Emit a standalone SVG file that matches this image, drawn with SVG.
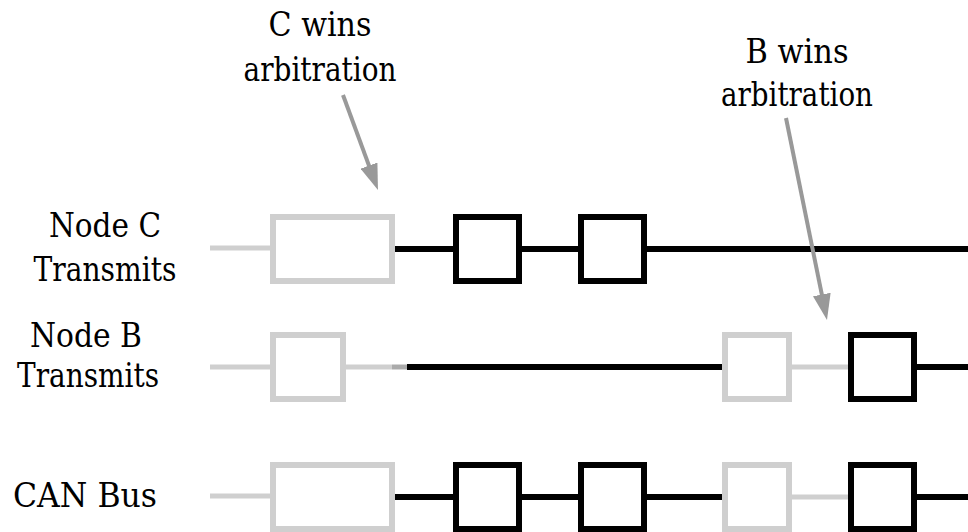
<svg xmlns="http://www.w3.org/2000/svg" width="968" height="532" viewBox="0 0 968 532">
<style>
.t{font-size:33px;fill:#000;text-anchor:middle}
.g{stroke:#cfcfcf;stroke-width:5;fill:none}
.gb{stroke:#cfcfcf;stroke-width:6;fill:#fff}
.k{stroke:#000;stroke-width:6;fill:none}
.kb{stroke:#000;stroke-width:6;fill:#fff}
.arr{stroke:#999;stroke-width:4;fill:none;marker-end:url(#ah)}
</style>
<defs>
<marker id="ah" markerUnits="userSpaceOnUse" markerWidth="26" markerHeight="18" refX="16" refY="9" orient="auto">
<path d="M0,0 L26,9 L0,18 z" fill="#999"/>
</marker>
</defs>
<rect width="968" height="532" fill="#fff"/>

<g id="connectors">
<line class="g" x1="210" y1="248" x2="270" y2="248"/>
<line class="k" x1="395" y1="249" x2="456" y2="249"/>
<line class="k" x1="519" y1="249" x2="581" y2="249"/>
<line class="k" x1="644" y1="249" x2="968" y2="249"/>
<line class="g" x1="210" y1="367" x2="273" y2="367"/>
<line class="g" x1="343" y1="367" x2="392" y2="367"/>
<line x1="392" y1="367" x2="407" y2="367" stroke="#aaa" stroke-width="5"/>
<line class="k" x1="407" y1="367" x2="725" y2="367"/>
<line class="g" x1="789" y1="367" x2="851" y2="367"/>
<line class="k" x1="914" y1="367" x2="968" y2="367"/>
<line class="g" x1="210" y1="496" x2="273" y2="496"/>
<line class="k" x1="395" y1="497" x2="456" y2="497"/>
<line class="k" x1="519" y1="497" x2="581" y2="497"/>
<line class="k" x1="644" y1="497" x2="725" y2="497"/>
<line class="g" x1="789" y1="497" x2="851" y2="497"/>
<line class="k" x1="914" y1="497" x2="968" y2="497"/>
<line class="arr" x1="343" y1="95" x2="374.5" y2="180.6"/>
<line class="arr" x1="786" y1="118" x2="825" y2="310.2"/>
</g>

<g id="labels" font-family="DejaVu Serif, serif">
<text class="t" x="320" y="36" textLength="103" lengthAdjust="spacingAndGlyphs">C wins</text>
<text class="t" x="320" y="81" textLength="153" lengthAdjust="spacingAndGlyphs">arbitration</text>
<text class="t" x="797" y="63" textLength="103" lengthAdjust="spacingAndGlyphs">B wins</text>
<text class="t" x="797" y="106" textLength="152" lengthAdjust="spacingAndGlyphs">arbitration</text>
<text class="t" x="105" y="237" textLength="112" lengthAdjust="spacingAndGlyphs">Node C</text>
<text class="t" x="105" y="281" textLength="143" lengthAdjust="spacingAndGlyphs">Transmits</text>
<text class="t" x="86" y="347" textLength="112" lengthAdjust="spacingAndGlyphs">Node B</text>
<text class="t" x="88" y="387" textLength="142" lengthAdjust="spacingAndGlyphs">Transmits</text>
<text class="t" x="85" y="507" textLength="144" lengthAdjust="spacingAndGlyphs">CAN Bus</text>
</g>

<g id="nodeC-frame1"><rect class="gb" x="273" y="217" width="119" height="64"/></g>
<g id="nodeC-frame2"><rect class="kb" x="456" y="217" width="63" height="64"/></g>
<g id="nodeC-frame3"><rect class="kb" x="581" y="217" width="63" height="64"/></g>

<g id="nodeB-frame1"><rect class="gb" x="273" y="335" width="70" height="64"/></g>
<g id="nodeB-frame2"><rect class="gb" x="725" y="335" width="64" height="64"/></g>
<g id="nodeB-frame3"><rect class="kb" x="851" y="335" width="63" height="64"/></g>

<g id="bus-frame1"><rect class="gb" x="273" y="465" width="119" height="64"/></g>
<g id="bus-frame2"><rect class="kb" x="456" y="465" width="63" height="64"/></g>
<g id="bus-frame3"><rect class="kb" x="581" y="465" width="63" height="64"/></g>
<g id="bus-frame4"><rect class="gb" x="725" y="465" width="64" height="64"/></g>
<g id="bus-frame5"><rect class="kb" x="851" y="465" width="63" height="64"/></g>
</svg>
